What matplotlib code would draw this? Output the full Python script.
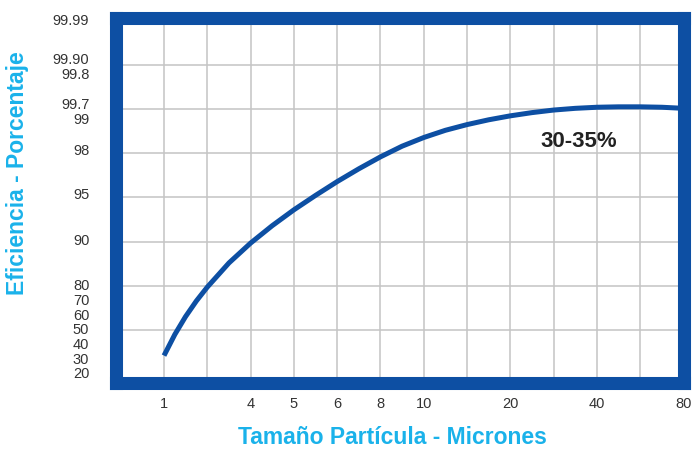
import numpy as np
import matplotlib
matplotlib.use('Agg')
import matplotlib.pyplot as plt
from matplotlib.ticker import FixedLocator, NullFormatter

plt.rcParams['font.family'] = ['Liberation Sans', 'DejaVu Sans']

# Curve: particle size (microns) vs efficiency (%)
size_um = [1, 1.19, 1.41, 1.68, 2, 2.83, 4, 4.47, 5, 5.48, 6, 6.93, 8, 8.94,
           10, 11.89, 14.14, 16.82, 20, 23.78, 28.28, 33.64, 40, 47.57, 56.57,
           67.27, 80]
efficiency = [31.5, 45.6, 57.6, 68.2, 77.4, 84.5, 88.9, 91.35, 93.08, 94.66,
              95.72, 96.59, 97.40, 98.06, 98.35, 98.59, 98.78, 98.94, 99.10,
              99.25, 99.37, 99.45, 99.50, 99.52, 99.52, 99.50, 99.45]

# Axis labels and the grid cell each one sits on (the chart's own uneven scale)
x_tick_vals = [1, 4, 5, 6, 8, 10, 20, 40, 80]
x_tick_labels = ['1', '4', '5', '6', '8', '10', '20', '40', '80']
x_tick_slots = [0, 2, 3, 4, 5, 6, 8, 10, 12]

y_tick_vals = [20, 30, 40, 50, 60, 70, 80, 90, 95, 98, 99, 99.7, 99.8, 99.9, 99.99]
y_tick_labels = ['20', '30', '40', '50', '60', '70', '80', '90', '95', '98',
                 '99', '99.7', '99.8', '99.90', '99.99']
y_tick_slots = [0.05, 0.37, 0.71, 1.05, 1.38, 1.72, 2.06, 3.08, 4.12, 5.12,
                5.80, 6.14, 6.82, 7.16, 8.06]

label_text = '30-35%'

blue = '#0d4fa3'
cyan = '#1ab2ea'
grid_gray = '#c4c4c4'
tick_gray = '#333333'


def interp_ext(xp, fp):
    # piecewise linear with straight extrapolation at both ends
    xp = np.asarray(xp, float)
    fp = np.asarray(fp, float)
    s_lo = (fp[1] - fp[0]) / (xp[1] - xp[0])
    s_hi = (fp[-1] - fp[-2]) / (xp[-1] - xp[-2])

    def f(v):
        v = np.asarray(v, float)
        out = np.interp(v, xp, fp)
        out = np.where(v < xp[0], fp[0] + (v - xp[0]) * s_lo, out)
        out = np.where(v > xp[-1], fp[-1] + (v - xp[-1]) * s_hi, out)
        return out
    return f


log_x = np.log10(x_tick_vals)
_fx = interp_ext(log_x, x_tick_slots)
_gx = interp_ext(x_tick_slots, log_x)


def fwd_x(v):
    return _fx(np.log10(np.clip(np.asarray(v, float), 1e-6, None)))


def inv_x(p):
    return 10 ** _gx(p)


fwd_y = interp_ext(y_tick_vals, y_tick_slots)
inv_y = interp_ext(y_tick_slots, y_tick_vals)

fig = plt.figure(figsize=(6.94, 4.52), dpi=100)
ax = fig.add_axes([0.1667, 0.1504, 0.8182, 0.8082])

ax.set_xscale('function', functions=(fwd_x, inv_x))
ax.set_yscale('function', functions=(fwd_y, inv_y))
ax.set_xlim(inv_x(-1.116), inv_x(12.0))
ax.set_ylim(inv_y(-0.20), inv_y(8.07))

# grid sits on whole cells, not on the labels
ax.xaxis.remove_overlapping_locs = False
ax.yaxis.remove_overlapping_locs = False
ax.xaxis.set_minor_locator(FixedLocator(inv_x(np.arange(0, 12))))
ax.yaxis.set_minor_locator(FixedLocator(inv_y(np.arange(1, 8))))
ax.xaxis.set_minor_formatter(NullFormatter())
ax.yaxis.set_minor_formatter(NullFormatter())
ax.grid(which='minor', color=grid_gray, linewidth=1.1)
ax.grid(which='major', visible=False)
ax.set_axisbelow(True)

ax.xaxis.set_major_locator(FixedLocator(x_tick_vals))
ax.set_xticklabels(x_tick_labels)
ax.yaxis.set_major_locator(FixedLocator(y_tick_vals))
ax.set_yticklabels(y_tick_labels)
ax.tick_params(which='both', length=0)
ax.tick_params(axis='x', pad=9, labelsize=10.5, labelcolor=tick_gray)
ax.tick_params(axis='y', pad=19, labelsize=10.5, labelcolor=tick_gray)

ax.plot(size_um, efficiency, color=blue, linewidth=3.6, solid_capstyle='butt',
        solid_joinstyle='round')

ax.text(0.816, 0.665, label_text, transform=ax.transAxes, ha='center', va='center',
        fontsize=16, fontweight='bold', color='#222222')

for s in ax.spines.values():
    s.set_linewidth(9.4)
    s.set_color(blue)

fig.text(0.565, 0.031, 'Tamaño Partícula - Micrones', ha='center', va='center',
         fontsize=16.5, fontweight='bold', color=cyan)
fig.text(0.025, 0.617, 'Eficiencia - Porcentaje', ha='center', va='center',
         rotation=90, fontsize=16.5, fontweight='bold', color=cyan)

fig.savefig('out.png', dpi=100)
